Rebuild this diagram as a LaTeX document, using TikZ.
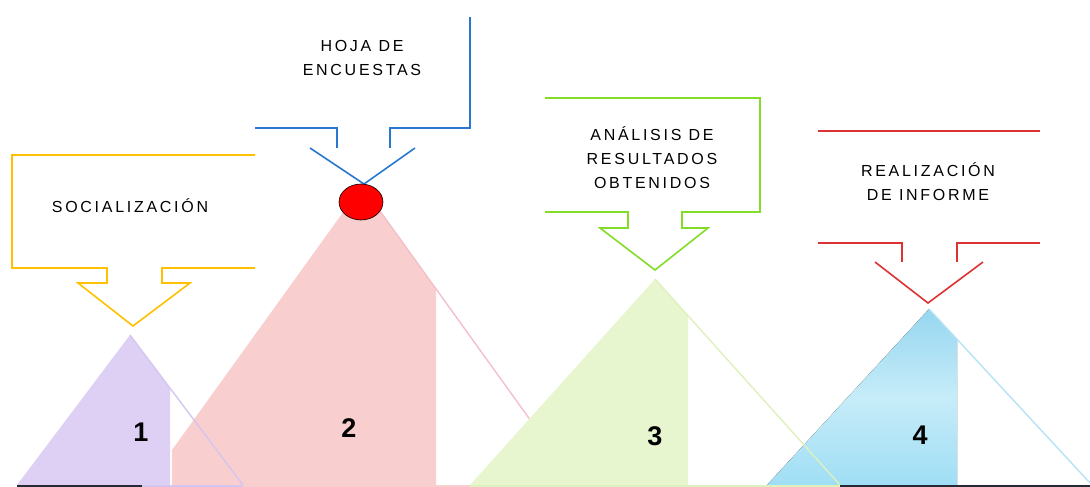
\documentclass[tikz,border=0pt]{standalone}
\usepackage{fontspec}
\setmainfont{Liberation Sans}
\newfontfamily\calloutfont[LetterSpace=17]{Liberation Sans}
\usepackage{tikz}
\usetikzlibrary{calc}
\definecolor{socialYellow}{RGB}{255,192,0}
\definecolor{surveyBlue}{RGB}{40,120,210}
\definecolor{resultGreen}{RGB}{130,220,40}
\definecolor{reportRed}{RGB}{220,50,50}
\definecolor{lavFill}{RGB}{222,208,245}
\definecolor{lavLine}{RGB}{212,198,240}
\definecolor{pinkFill}{RGB}{248,206,206}
\definecolor{pinkLine}{RGB}{243,192,202}
\definecolor{limeFill}{RGB}{232,246,208}
\definecolor{limeLine}{RGB}{222,240,188}
\definecolor{skyTop}{RGB}{150,214,240}
\definecolor{skyMid}{RGB}{198,236,248}
\definecolor{skyBot}{RGB}{160,222,245}
\definecolor{baseDark}{RGB}{40,40,55}

\begin{document}
\begin{tikzpicture}[x=1pt,y=-1pt,
  callout/.style={line width=1.6pt, line join=miter},
  edge/.style={line width=1.4pt},
  calltext/.style={font=\calloutfont\fontsize{16}{24}\selectfont, align=center, inner sep=0pt},
  stepnum/.style={font=\bfseries\fontsize{27}{27}\selectfont, inner sep=0pt}]
\useasboundingbox (0,0) rectangle (1090,487);

\fill[lavFill] (17,485) -- (130,335) -- (170,388) -- (170,485) -- cycle;
\fill[pinkFill] (172,485) -- (172,450) -- (362,186) -- (436,289) -- (436,485) -- cycle;
\draw[edge, lavLine] (130,335) -- (243,485);
\draw[edge, pinkLine] (362,186) -- (577,485);
\fill[limeFill] (470,485) -- (655,279) -- (688,316) -- (688,485) -- cycle;
\fill[top color=skyTop, bottom color=skyBot, middle color=skyMid] (767,485) -- (929,309) -- (957,339) -- (957,485) -- cycle;
\draw[edge, limeLine] (655,279) -- (840,485);
\draw[edge, skyTop!70!white] (929,309) -- (1090,483);

\draw[line width=2pt, baseDark] (17,486) -- (142,486);
\draw[line width=2pt, lavLine] (142,486) -- (243,486);
\draw[line width=2pt, pinkFill] (243,486) -- (470,486);
\draw[line width=2pt, limeLine] (470,486) -- (840,486);
\draw[line width=2pt, baseDark] (840,486) -- (1090,486);

\draw[callout, socialYellow] (255,155) -- (12,155) -- (12,268) -- (107,268) -- (107,283) -- (78,283)
  -- (133,326) -- (190,283) -- (162,283) -- (162,268) -- (255,268);
\node[calltext] (social) at (130,206) {SOCIALIZACIÓN};

\draw[callout, surveyBlue] (255,128) -- (337,128) -- (337,148);
\draw[callout, surveyBlue] (310,148) -- (364,184) -- (415,148);
\draw[callout, surveyBlue] (390,148) -- (390,128) -- (470,128) -- (470,17);
\node[calltext] (survey) at (362,58) {HOJA DE\\ENCUESTAS};
\fill[red, draw=black, line width=0.6pt] (361,202) ellipse [x radius=22pt, y radius=18pt];

\draw[callout, resultGreen] (545,98) -- (760,98) -- (760,212) -- (682,212) -- (682,228) -- (708,228)
  -- (655,270) -- (600,228) -- (628,228) -- (628,212) -- (545,212);
\node[calltext] (results) at (652,158) {ANÁLISIS DE\\RESULTADOS\\OBTENIDOS};

\draw[callout, reportRed] (818,131) -- (1040,131);
\draw[callout, reportRed] (818,243) -- (902,243) -- (902,262);
\draw[callout, reportRed] (875,262) -- (928,303) -- (983,262);
\draw[callout, reportRed] (957,262) -- (957,243) -- (1040,243);
\node[calltext] (report) at (928,182) {REALIZACIÓN\\DE INFORME};

\node[stepnum] (n1) at (141,432) {1};
\node[stepnum] (n2) at (349,428) {2};
\node[stepnum] (n3) at (655,436) {3};
\node[stepnum] (n4) at (920,435) {4};
\end{tikzpicture}
\end{document}
